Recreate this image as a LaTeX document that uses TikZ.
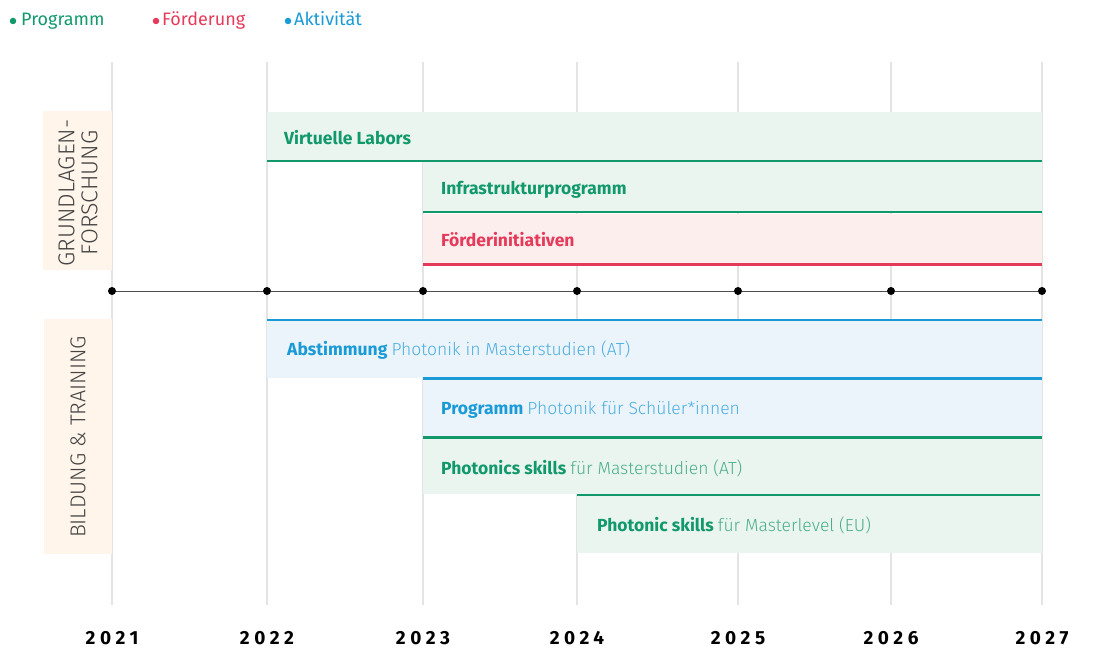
\documentclass[tikz,border=0pt]{standalone}
\usepackage{fontspec}
\setmainfont{Fira Sans}
\newfontfamily\lightfont{Fira Sans Light}
\definecolor{pgreen}{HTML}{12996B}
\definecolor{pgreenlt}{HTML}{EAF5F0}
\definecolor{pgreentx}{HTML}{4AAF88}
\definecolor{fred}{HTML}{E63A5A}
\definecolor{fredlt}{HTML}{FDEEEE}
\definecolor{ablue}{HTML}{1A9AD6}
\definecolor{abluelt}{HTML}{EBF4FB}
\definecolor{abluetx}{HTML}{4CAEE0}
\definecolor{sidebg}{HTML}{FFF5EA}
\definecolor{sidetx}{HTML}{444444}
\definecolor{gridc}{HTML}{E4E4E4}
\begin{document}
\begin{tikzpicture}[x=1pt,y=-1pt,
  gridline/.style={gridc,line width=1.2pt},
  barlbl/.style={anchor=base west,inner sep=0pt,font=\fontsize{17.5}{20}\selectfont\bfseries},
  legtxt/.style={anchor=base west,inner sep=0pt,font=\fontsize{18}{21}\selectfont},
  yearlbl/.style={anchor=base,inner sep=0pt,font=\fontsize{19}{22}\selectfont\bfseries\addfontfeatures{LetterSpace=24}},
  sidelbl/.style={inner sep=0pt,rotate=90,align=center,text=sidetx},
  tdot/.style={circle,fill=black,inner sep=0pt,minimum size=8pt},
  ldot/.style={circle,inner sep=0pt,minimum size=6.5pt}]
\useasboundingbox (0,0) rectangle (1097,669);
% grid
\foreach \x/\n in {112/a,267/b,423/c,577/d,738/e,891/f,1042/g}
  \draw[gridline] (\x,62) -- (\x,605);
% side boxes
\fill[sidebg] (43,111) rectangle (112,270);
\node[sidelbl,font=\fontsize{23}{23}\lightfont] (grund) at (78,193) {GRUNDLAGEN-\\FORSCHUNG};
\fill[sidebg] (44,319) rectangle (112,554);
\node[sidelbl,font=\fontsize{21.5}{24}\lightfont] (bild) at (78,437) {BILDUNG \& TRAINING};
% top bars
\fill[pgreenlt] (267,112) rectangle (1042,162);
\draw[pgreen,line width=2.5pt] (267,161) -- (1042,161);
\fill[pgreenlt] (423,162) rectangle (1042,212);
\draw[pgreen,line width=2.5pt] (423,212) -- (1042,212);
\fill[fredlt] (423,214) rectangle (1042,265);
\draw[fred,line width=2.5pt] (423,264.5) -- (1042,264.5);
\node[barlbl,text=pgreen] (vl) at (284,144) {Virtuelle Labors};
\node[barlbl,text=pgreen] (ip) at (441,194) {Infrastrukturprogramm};
\node[barlbl,text=fred] (fi) at (441,246) {Förderinitiativen};
% bottom bars
\fill[abluelt] (267,320) rectangle (1042,378);
\draw[ablue,line width=2.5pt] (267,320) -- (1042,320);
\fill[abluelt] (423,378) rectangle (1042,437);
\draw[ablue,line width=2.5pt] (423,378.5) -- (1042,378.5);
\fill[pgreenlt] (423,437) rectangle (1042,494);
\draw[pgreen,line width=2.5pt] (423,437.5) -- (1042,437.5);
\fill[pgreenlt] (577,494) rectangle (1042,553);
\draw[pgreen,line width=2.5pt] (577,495) -- (1040,495);
\node[barlbl,text=ablue] (ab) at (287,355) {Abstimmung {\lightfont\mdseries\color{abluetx} Photonik in Masterstudien (AT)}};
\node[barlbl,text=ablue] (ps) at (441,414) {Programm {\lightfont\mdseries\color{abluetx} Photonik für Schüler*innen}};
\node[barlbl,text=pgreen] (pk) at (441,474) {Photonics skills {\lightfont\mdseries\color{pgreentx} für Masterstudien (AT)}};
\node[barlbl,text=pgreen] (pm) at (597,531) {Photonic skills {\lightfont\mdseries\color{pgreentx} für Masterlevel (EU)}};
% timeline
\foreach \x/\n in {112/a,267/b,423/c,577/d,738/e,891/f,1042/g}
  \node[tdot] (t\n) at (\x,291) {};
\draw[black!70,line width=1pt] (ta) -- (tb) -- (tc) -- (td) -- (te) -- (tf) -- (tg);
% years
\foreach \x/\y in {112/2021,267/2022,423/2023,577/2024,738/2025,891/2026,1042/2027}
  \node[yearlbl] (y\y) at (\x,644) {\y};
% legend
\node[ldot,fill=pgreen] (lg) at (13,21) {};
\node[legtxt,text=pgreen] (lgt) at (21,26) {Programm};
\node[ldot,fill=fred] (lr) at (156,21) {};
\node[legtxt,text=fred] (lrt) at (162,26) {Förderung};
\node[ldot,fill=ablue] (lb) at (288,21) {};
\node[legtxt,text=ablue] (lbt) at (294,26) {Aktivität};
\end{tikzpicture}
\end{document}
